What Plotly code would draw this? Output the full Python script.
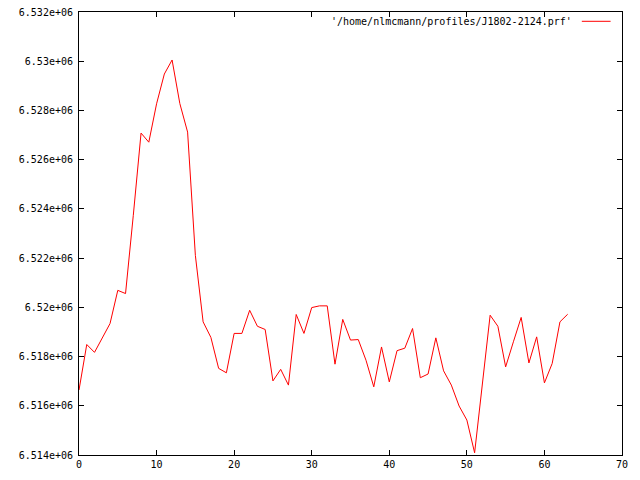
import plotly.graph_objects as go

x_index = list(range(64))
values = [
    6516640, 6518490, 6518170, 6518750, 6519340, 6520690, 6520560, 6523740,
    6527080, 6526710, 6528270, 6529480, 6530050, 6528280, 6527120, 6522110,
    6519410, 6518780, 6517520, 6517340, 6518940, 6518940, 6519880, 6519230,
    6519100, 6517010, 6517480, 6516840, 6519710, 6518940, 6519990, 6520060,
    6520060, 6517690, 6519510, 6518670, 6518690, 6517850, 6516770, 6518390,
    6516970, 6518240, 6518340, 6519140, 6517140, 6517290, 6518760, 6517420,
    6516840, 6515990, 6515420, 6514090, 6516880, 6519680, 6519230, 6517580,
    6518600, 6519590, 6517740, 6518800, 6516930, 6517720, 6519410, 6519720,
]
series_name = "'/home/nlmcmann/profiles/J1802-2124.prf'"

x_ticks = [0, 10, 20, 30, 40, 50, 60, 70]
y_ticks = [6514000, 6516000, 6518000, 6520000, 6522000, 6524000, 6526000, 6528000, 6530000, 6532000]
y_tick_labels = ["6.514e+06", "6.516e+06", "6.518e+06", "6.52e+06", "6.522e+06",
                 "6.524e+06", "6.526e+06", "6.528e+06", "6.53e+06", "6.532e+06"]

font = dict(family="DejaVu Sans Mono", size=10, color="black")

fig = go.Figure()
fig.add_trace(go.Scatter(x=x_index, y=values, mode="lines",
                         line=dict(color="#ff0000", width=1),
                         name=series_name, showlegend=False, hoverinfo="skip"))

axis_common = dict(showgrid=False, zeroline=False, showline=True, linecolor="black",
                   linewidth=1, mirror="ticks", ticks="inside", ticklen=5,
                   tickcolor="black", tickwidth=1, tickfont=font, automargin=False)

fig.update_xaxes(range=[0, 70], tickvals=x_ticks, **axis_common)
fig.update_yaxes(range=[6514000, 6532000], tickvals=y_ticks, ticktext=y_tick_labels,
                 ticklabelstandoff=3, **axis_common)

# gnuplot-style key: text followed by line sample
fig.add_annotation(x=0.912, y=0.979, xref="paper", yref="paper", text=series_name,
                   showarrow=False, xanchor="right", yanchor="middle", font=font)
fig.add_shape(type="line", xref="paper", yref="paper", x0=0.926, x1=0.979,
              y0=0.979, y1=0.979, line=dict(color="#ff0000", width=1))

fig.update_layout(width=640, height=480, plot_bgcolor="white", paper_bgcolor="white",
                  margin=dict(l=79, r=18, t=12, b=25), font=font)

fig.write_html("out.html", config={"displayModeBar": False},
               post_script="document.body.style.margin='0px';document.body.style.padding='0px';")
